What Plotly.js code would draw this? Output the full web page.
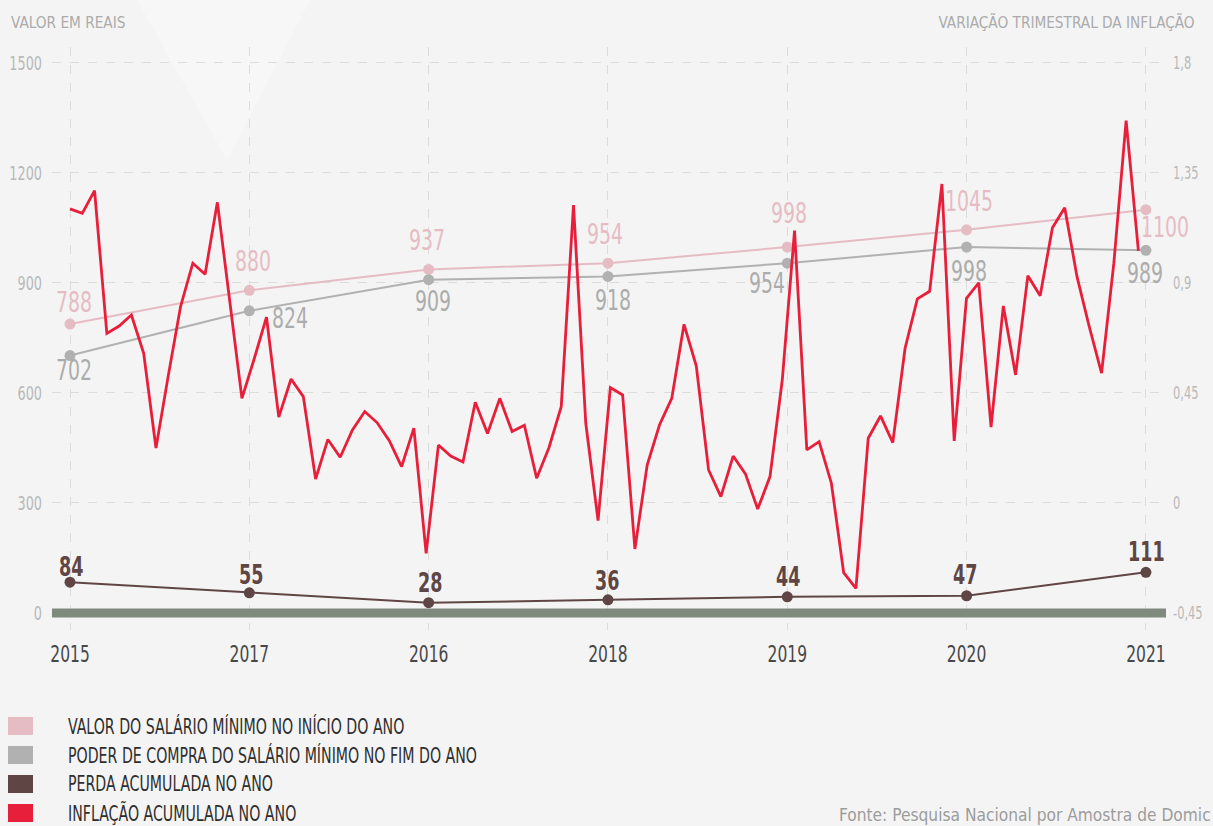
<!DOCTYPE html>
<html>
<head>
<meta charset="utf-8">
<script src="https://cdn.plot.ly/plotly-3.0.1.min.js"></script>
<style>
html,body{margin:0;padding:0;background:#f4f4f4;}
#chart{width:1213px;height:826px;}
</style>
</head>
<body>
<div id="chart"></div>
<script>
// ---------- DATA ----------
const categories = ['2015','2017','2016','2018','2019','2020','2021'];
const salarioInicio = [788, 880, 937, 954, 998, 1045, 1100];
const poderCompra  = [702, 824, 909, 918, 954, 998, 989];
const perdaAcumulada = [84, 55, 28, 36, 44, 47, 111];
const inflacao = [
  1.203, 1.185, 1.278, 0.694, 0.724, 0.769, 0.612, 0.225, 0.520, 0.803,
  0.981, 0.936, 1.230, 0.830, 0.428, 0.590, 0.760, 0.351, 0.507, 0.435,
  0.098, 0.260, 0.187, 0.299, 0.374, 0.329, 0.255, 0.149, 0.306, -0.206,
  0.237, 0.192, 0.168, 0.412, 0.284, 0.428, 0.292, 0.318, 0.101, 0.226,
  0.394, 1.219, 0.326, -0.072, 0.472, 0.442, -0.188, 0.155, 0.319, 0.428,
  0.731, 0.560, 0.135, 0.026, 0.192, 0.119, -0.025, 0.108, 0.503, 1.114,
  0.217, 0.251, 0.081, -0.285, -0.349, 0.265, 0.356, 0.247, 0.633, 0.835,
  0.866, 1.305, 0.254, 0.837, 0.901, 0.310, 0.806, 0.524, 0.930, 0.848,
  1.126, 1.208, 0.926, 0.721, 0.531, 0.981, 1.564, 1.031
];
const leftTicks = [0, 300, 600, 900, 1200, 1500];
const rightTicks = [-0.45, 0, 0.45, 0.9, 1.35, 1.8];
const rightTickText = ['-0,45', '0', '0,45', '0,9', '1,35', '1,8'];
const legendLabels = [
  'VALOR DO SALÁRIO MÍNIMO NO INÍCIO DO ANO',
  'PODER DE COMPRA DO SALÁRIO MÍNIMO NO FIM DO ANO',
  'PERDA ACUMULADA NO ANO',
  'INFLAÇÃO ACUMULADA NO ANO'
];

// ---------- STYLE / LAYOUT ----------
const FONT = '"DejaVu Sans Condensed", "DejaVu Sans", sans-serif';
const C_PINK = '#e6bcc4', C_GRAY = '#b1b1b1', C_BROWN = '#5f4644', C_RED = '#e71f3b';
const W = 1213, H = 826, L = 52, R = 1166, T = 47, B = 630;
const px = x => (x - L) / (R - L);
const py = y => (B - y) / (B - T);
const SQUEEZE = 0.75;   // horizontal condensing of the text (reference uses a condensed face)

const yRange = [-46.4, 1543.6];
const yRange2 = yRange.map(v => -0.45 + v * 0.0015);
const xRange = [-0.1004, 6.112];
const idxStep = 0.068484; // category units per inflation sample
const xRange2 = xRange.map(v => v / idxStep);

// label offsets (pixels) [dx, dy-up]
const pinkOff  = [[4,22],[4,29],[-2,29],[-3,29],[2,34],[2,28],[19,-18]];
const grayOff  = [[4,-15],[41,-8],[4,-22],[5,-24],[-20,-20],[2,-24],[-1,-23]];
const brownOff = [[1,15],[2,18],[2,20],[0,19],[1,20],[-1,21],[1,20]];

const traces = [
  {x: categories, y: salarioInicio, type:'scatter', mode:'lines+markers',
   line:{color:C_PINK, width:2}, marker:{color:C_PINK, size:11}, xaxis:'x', yaxis:'y', hoverinfo:'skip'},
  {x: categories, y: poderCompra, type:'scatter', mode:'lines+markers',
   line:{color:C_GRAY, width:2}, marker:{color:C_GRAY, size:11}, xaxis:'x', yaxis:'y', hoverinfo:'skip'},
  {x: categories, y: perdaAcumulada, type:'scatter', mode:'lines+markers',
   line:{color:C_BROWN, width:2}, marker:{color:C_BROWN, size:11}, xaxis:'x', yaxis:'y', hoverinfo:'skip'},
  {x: inflacao.map((_, i) => i), y: inflacao, type:'scatter', mode:'lines',
   line:{color:C_RED, width:2.8}, xaxis:'x2', yaxis:'y2', hoverinfo:'skip'}
];

const annotations = [];
const squeezeOf = [];
function addAnn(a, s){ annotations.push(a); squeezeOf.push(s); }
function addLabels(vals, offs, color, weight, size){
  vals.forEach((v, i) => {
    addAnn({x: i, y: v, xref:'x', yref:'y', text: String(v), showarrow:false,
      xanchor:'center', yanchor:'middle', xshift: offs[i][0], yshift: offs[i][1],
      font:{family:FONT, size:size, color:color, weight: weight}}, SQUEEZE);
  });
}
addLabels(salarioInicio, pinkOff, C_PINK, 'normal', 28);
addLabels(poderCompra, grayOff, '#acacac', 'normal', 28);
addLabels(perdaAcumulada, brownOff, C_BROWN, 'bold', 26);

// axis titles & source
addAnn({xref:'paper', yref:'paper', x: px(9), y: py(23), xanchor:'left', yanchor:'middle', align:'left',
  text:'VALOR EM REAIS', showarrow:false, font:{family:FONT, size:16, color:'#ababab'}}, 0.95);
addAnn({xref:'paper', yref:'paper', x: px(1197), y: py(23), xanchor:'right', yanchor:'middle', align:'right',
  text:'VARIAÇÃO TRIMESTRAL DA INFLAÇÃO', showarrow:false, font:{family:FONT, size:16, color:'#ababab'}}, 0.95);
addAnn({xref:'paper', yref:'paper', x: px(837), y: py(815), xanchor:'left', yanchor:'middle', align:'left',
  text:'Fonte: Pesquisa Nacional por Amostra de Domic', showarrow:false, font:{family:FONT, size:17.2, color:'#9c9c9c'}}, 1);

// legend
const legendColors = [C_PINK, C_GRAY, C_BROWN, C_RED];
const legendRowsY = [726, 755, 784, 813];
const shapes = [];
legendLabels.forEach((lab, i) => {
  const yc = legendRowsY[i];
  shapes.push({type:'rect', xref:'paper', yref:'paper', x0: px(8), x1: px(33), y0: py(yc - 9), y1: py(yc + 9),
    fillcolor: legendColors[i], line:{width:0}});
  addAnn({xref:'paper', yref:'paper', x: px(66), y: py(yc), xanchor:'left', yanchor:'middle', align:'left',
    text: lab, showarrow:false, font:{family:FONT, size:21, color:'#2e2e2e'}}, SQUEEZE);
});

// background decoration
shapes.push({type:'path', xref:'paper', yref:'paper', layer:'below',
  path:`M ${px(137)} ${py(0)} L ${px(227)} ${py(160)} L ${px(310)} ${py(0)} Z`,
  fillcolor:'#f7f7f7', line:{width:0}});
// thick baseline at zero
shapes.push({type:'line', xref:'paper', yref:'y', x0:0, x1:1, y0:0, y1:0, layer:'above',
  line:{color:'#7e8a7c', width:9}});

const layout = {
  width: W, height: H, autosize:false,
  margin:{l:L, r:W - R, t:T, b:H - B, pad:0},
  paper_bgcolor:'#f4f4f4', plot_bgcolor:'rgba(0,0,0,0)',
  showlegend:false, hovermode:false,
  font:{family:FONT},
  xaxis:{type:'category', range:xRange, showgrid:true, gridcolor:'#dcdcdc', griddash:'dash', gridwidth:1,
    zeroline:false, showline:false, ticks:'', ticklabelstandoff:8,
    tickfont:{family:FONT, size:23, color:'#484848'}},
  xaxis2:{overlaying:'x', range:xRange2, visible:false},
  yaxis:{range:yRange, tickvals:leftTicks, ticktext:leftTicks.map(String), showgrid:true, gridcolor:'#dcdcdc',
    griddash:'dash', gridwidth:1, zeroline:false, showline:false, ticks:'', ticklabelstandoff:9,
    tickfont:{family:FONT, size:19, color:'#b9b9b9'}},
  yaxis2:{overlaying:'y', side:'right', range:yRange2, tickvals:rightTicks, ticktext:rightTickText,
    showgrid:false, zeroline:false, showline:false, ticks:'', ticklabelstandoff:6,
    tickfont:{family:FONT, size:17, color:'#b9b9b9'}},
  annotations: annotations,
  shapes: shapes
};

function condense(el, s){
  if (s >= 1) return;
  const w = el.getComputedTextLength();
  if (w > 0) { el.setAttribute('textLength', (w * s).toFixed(2)); el.setAttribute('lengthAdjust', 'spacingAndGlyphs'); }
}

Plotly.newPlot('chart', traces, layout, {displayModeBar:false, staticPlot:true}).then(gd => {
  gd.querySelectorAll('g.xtick > text, g.ytick > text, g.y2tick > text').forEach(t => condense(t, SQUEEZE));
  gd.querySelectorAll('g.annotation').forEach(g => {
    const idx = +g.getAttribute('data-index');
    const t = g.querySelector('text.annotation-text');
    if (t) condense(t, squeezeOf[idx] == null ? SQUEEZE : squeezeOf[idx]);
  });
});
</script>
</body>
</html>
